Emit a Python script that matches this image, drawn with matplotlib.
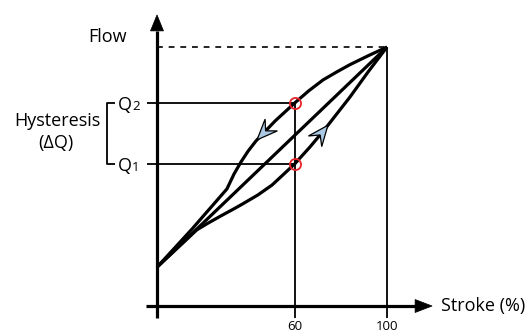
import numpy as np
import matplotlib.pyplot as plt
from matplotlib.patches import Polygon

plt.rcParams['font.family'] = ['Open Sans', 'DejaVu Sans']

# valve characteristic (stroke %, flow %)
stroke_closing = [0, 15.2, 30.4, 33.5, 36.5, 39.6, 43.0, 51.3, 60, 66, 72.2, 78, 83.9, 92, 100]
flow_closing = [15, 29.7, 45.2, 51.0, 55.6, 59.8, 63.7, 71.4, 78.5, 83.1, 87.3, 90.3, 93.2, 96.7, 100]
stroke_opening = [0, 10, 17.3, 22, 28, 33, 37.0, 43.9, 50.0, 55.7, 60, 66.5, 73.0, 83.9, 91.7, 100]
flow_opening = [15, 23.3, 29.4, 31.9, 34.9, 37.3, 39.3, 42.9, 46.7, 51.4, 55.0, 61.4, 68.3, 80.7, 90.3, 100]
stroke_linear = [0, 100]
flow_linear = [15, 100]

stroke_mark = 60
q1, q2 = 55.0, 78.5
tick_values = [60, 100]

fig = plt.figure(figsize=(5.31, 3.33), dpi=100)
ax = fig.add_axes([0, 0, 1, 1])
ax.set_xlim(-68.26, 162.6)
ax.set_ylim(-10.42, 118.15)
ax.axis('off')


def head(tip, behind, length, half_w, notch, fc, lw=0.9):
    # arrow head drawn in pixel space, then mapped back to data
    t = ax.transData.transform(tip)
    b = ax.transData.transform(behind)
    d = (t - b) / np.linalg.norm(t - b)
    n = np.array([-d[1], d[0]])
    pts = [t, t - length * d + half_w * n, t - notch * d, t - length * d - half_w * n]
    ax.add_patch(Polygon(ax.transData.inverted().transform(pts), closed=True,
                         fc=fc, ec='black', lw=lw, zorder=6, joinstyle='miter'))


thin = dict(color='black', lw=1.3, solid_capstyle='butt')
thick = dict(color='black', lw=2.3, solid_capstyle='butt', solid_joinstyle='round')

# axes with arrows
ax.plot([-4.8, 113], [0, 0], **thick)
ax.plot([0, 0], [-4.6, 106], **thick)
head((119.6, 0), (100, 0), 17, 6.5, 17, 'black', lw=0.5)
head((0, 112.4), (0, 100), 16, 6.5, 16, 'black', lw=0.5)

# guide lines
ax.plot([0, 100], [100, 100], color='black', lw=1.2, ls=(0, (3.5, 3.5)))
for v, top in zip(tick_values, [q2, 100]):
    ax.plot([v, v], [-4.6, top], **thin)
for q in [q1, q2]:
    ax.plot([-4.3, stroke_mark], [q, q], **thin)
ax.plot([-18.3, -21.7, -21.7, -18.3], [q2, q2, q1, q1], **thin)

# curves
ax.plot(stroke_linear, flow_linear, **thick)
ax.plot(stroke_closing, flow_closing, **thick)
ax.plot(stroke_opening, flow_opening, **thick)

# direction arrows
blue = '#a9c8e3'
s = 74.3
head((s, np.interp(s, stroke_opening, flow_opening)),
     (s - 2, np.interp(s - 2, stroke_opening, flow_opening)), 20.5, 8.5, 12.4, blue)
s = 43.5
head((s, np.interp(s, stroke_closing, flow_closing)),
     (s + 2, np.interp(s + 2, stroke_closing, flow_closing)), 20.5, 8.5, 12.4, blue)

# red markers
ax.plot([stroke_mark, stroke_mark], [q1, q2], ls='none', marker='o', ms=8,
        mfc='none', mec='#e8222a', mew=1.3, zorder=7)

# labels
fs = 13
ax.text(-21.3, 103.9, 'Flow', ha='center', va='center', fontsize=fs)
ax.text(-43.5, 71.4, 'Hysteresis', ha='center', va='center', fontsize=fs)
ax.text(-43.9, 62.9, '(ΔQ)', ha='center', va='center', fontsize=fs)
for q, sub in [(q2, '2'), (q1, '1')]:
    ax.annotate('Q', xy=(-17.0, q), xytext=(0, -5), textcoords='offset points',
                ha='left', va='baseline', fontsize=fs)
    ax.annotate(sub, xy=(-10.9, q), xytext=(0, -5), textcoords='offset points',
                ha='left', va='baseline', fontsize=9.5)
ax.text(123.5, 0, 'Stroke (%)', ha='left', va='center', fontsize=fs)
for v in tick_values:
    ax.annotate(str(v), xy=(v, -10.42), xytext=(0, 0), textcoords='offset points',
                ha='center', va='bottom', fontsize=9.5)

fig.savefig('out.png', dpi=100, facecolor='white')
